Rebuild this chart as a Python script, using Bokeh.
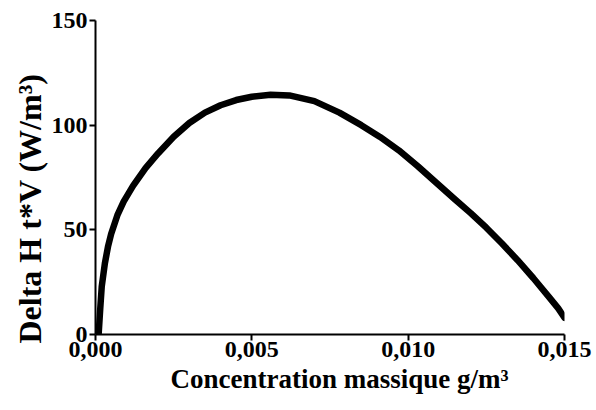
from bokeh.plotting import figure
from bokeh.models import FixedTicker, Range1d, Title
from bokeh.embed import file_html
from bokeh.resources import INLINE

# Data
conc = [0.0001, 0.00015, 0.0002, 0.0003, 0.0004, 0.0005, 0.0007, 0.0009, 0.0012,
        0.0016, 0.0020, 0.0025, 0.0030, 0.0035, 0.0040, 0.0045, 0.0050, 0.0056,
        0.0062, 0.0070, 0.0078, 0.0085, 0.0091, 0.0097, 0.0103, 0.0109, 0.0115,
        0.0120, 0.0125, 0.0130, 0.0135, 0.0140, 0.0145, 0.0148, 0.0150]
delta_h = [0, 12, 23, 34, 42, 48, 57, 63.5, 71,
           79.5, 86.5, 94.5, 101, 106, 109.5, 112, 113.6, 114.5,
           114.2, 111.5, 106, 100, 94.4, 88, 80.5, 72.5, 64.5,
           58, 51, 43.5, 35.5, 27, 18, 12.5, 8]

x_ticks = [0.0, 0.005, 0.010, 0.015]
x_tick_labels = ["0,000", "0,005", "0,010", "0,015"]
y_ticks = [0, 50, 100, 150]

FONT = "Liberation Serif"

p = figure(width=596, height=400, output_backend="svg", toolbar_location=None,
           x_range=Range1d(0, 0.015), y_range=Range1d(0, 150),
           min_border_left=95, min_border_right=32, min_border_top=20,
           min_border_bottom=66)
p.outline_line_color = None
p.grid.visible = False

p.line(conc, delta_h, line_width=6.5, line_color="black", line_cap="round",
       line_join="round")

for ax in (p.xaxis[0], p.yaxis[0]):
    ax.axis_line_width = 2
    ax.axis_line_color = "black"
    ax.major_tick_line_width = 2
    ax.major_tick_line_color = "black"
    ax.major_tick_out = 6
    ax.major_tick_in = 0
    ax.minor_tick_line_color = None
    ax.major_label_text_font = FONT
    ax.major_label_text_font_style = "bold"
    ax.major_label_text_font_size = "24px"
    ax.major_label_text_color = "black"

p.xaxis.ticker = FixedTicker(ticks=x_ticks)
p.xaxis.major_label_overrides = {t: l for t, l in zip(x_ticks, x_tick_labels)}
p.xaxis.major_label_standoff = 1

p.yaxis.ticker = FixedTicker(ticks=y_ticks)
p.yaxis.major_label_standoff = 2

xtitle = Title(text="Concentration massique g/m³", align="left", offset=75,
               text_font=FONT, text_font_style="bold", text_font_size="27px",
               text_color="black", standoff=4)
p.add_layout(xtitle, "below")

ytitle = Title(text="Delta H t*V (W/m³)", align="left", offset=-9,
               text_font=FONT, text_font_style="bold", text_font_size="32px",
               text_color="black", standoff=2)
p.add_layout(ytitle, "left")

open("out.html", "w").write(file_html(p, INLINE))
